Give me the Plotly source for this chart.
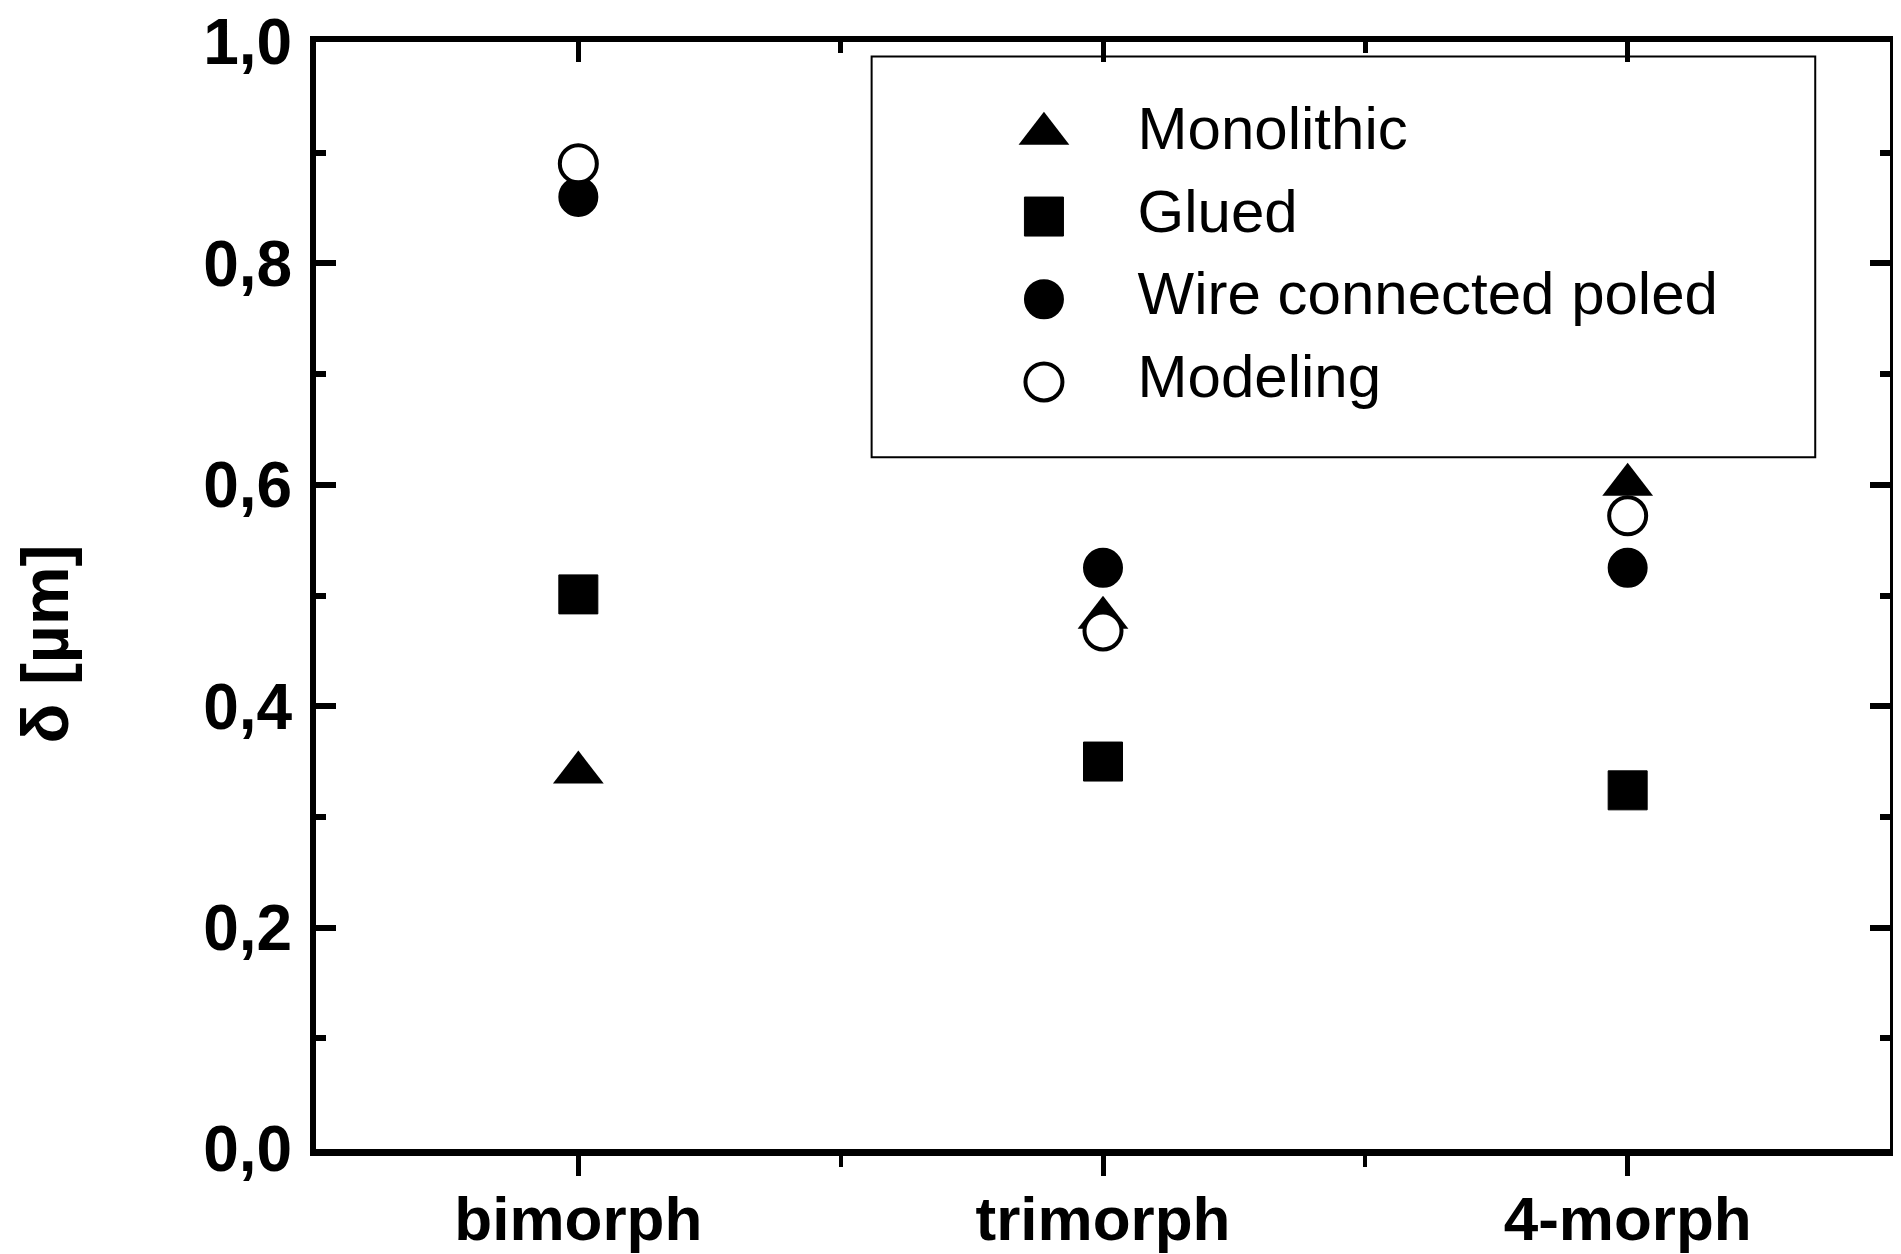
import plotly.graph_objects as go

# data
categories = ['bimorph', 'trimorph', '4-morph']
monolithic = [0.340, 0.480, 0.600]
glued = [0.501, 0.350, 0.324]
wire_poled = [0.860, 0.525, 0.525]
modeling = [0.890, 0.468, 0.572]

series_names = ['Monolithic', 'Glued', 'Wire connected poled', 'Modeling']
y_ticks = [0.0, 0.2, 0.4, 0.6, 0.8, 1.0]

FONT = 'Liberation Sans'
BLACK = '#000000'

styles = [
    dict(symbol='triangle-up', size=44, color=BLACK, line=dict(color=BLACK, width=0)),
    dict(symbol='square', size=39, color=BLACK, line=dict(color=BLACK, width=1)),
    dict(symbol='circle', size=38, color=BLACK, line=dict(color=BLACK, width=2)),
    dict(symbol='circle', size=37, color='white', line=dict(color=BLACK, width=4)),
]

xpos = list(range(len(categories)))
fig = go.Figure()
for name, vals, st in zip(series_names, [monolithic, glued, wire_poled, modeling], styles):
    fig.add_trace(go.Scatter(x=xpos, y=vals, mode='markers', name=name,
                             marker=st, showlegend=False, cliponaxis=False,
                             xaxis='x', yaxis='y'))

# empty trace so the top (mirror) axis gets drawn
fig.add_trace(go.Scatter(x=[], y=[], xaxis='x2', yaxis='y', showlegend=False))

# legend drawn on an overlaid helper axis pair so markers keep full size
rows = list(range(len(series_names)))
for i, st in enumerate(styles):
    fig.add_trace(go.Scatter(x=[0], y=[rows[i]], mode='markers', marker=st,
                             showlegend=False, cliponaxis=False,
                             xaxis='x3', yaxis='y3', hoverinfo='skip'))
fig.add_trace(go.Scatter(x=[1] * len(rows), y=rows, mode='text',
                         text=series_names, textposition='middle right',
                         textfont=dict(family=FONT, size=60, color=BLACK),
                         showlegend=False, cliponaxis=False,
                         xaxis='x3', yaxis='y3', hoverinfo='skip'))

fig.add_shape(type='rect', xref='paper', yref='paper',
              x0=0.353, x1=0.9525, y0=0.625, y1=0.987,
              line=dict(color=BLACK, width=2), fillcolor='white', layer='below')

fig.add_annotation(text='<b>δ [µm]</b>', xref='paper', yref='paper',
                   x=-0.172, y=0.456, textangle=-90, showarrow=False,
                   xanchor='center', yanchor='middle',
                   font=dict(family=FONT, size=66, color=BLACK))

fig.update_layout(
    width=1893, height=1246,
    margin=dict(l=308, r=11, t=34, b=105),
    paper_bgcolor='white', plot_bgcolor='white',
    separators=', ',
    font=dict(family=FONT, color=BLACK),
    showlegend=False,
    xaxis=dict(range=[-0.5, 2.5], tickvals=xpos, ticktext=categories,
               automargin=False, ticklabeloverflow='allow',
               showgrid=False, zeroline=False, showline=True,
               linecolor=BLACK, linewidth=7, mirror=False,
               ticks='outside', ticklen=20, tickwidth=5, tickcolor=BLACK,
               ticklabelstandoff=-10,
               tickfont=dict(family=FONT, size=62, color=BLACK, weight='bold'),
               minor=dict(tickvals=[0.5, 1.5], ticks='outside', ticklen=11,
                          tickwidth=4, tickcolor=BLACK, showgrid=False)),
    xaxis2=dict(overlaying='x', side='top', anchor='y', automargin=False,
                range=[-0.5, 2.5], tickvals=xpos, showticklabels=False,
                showgrid=False, zeroline=False, showline=True,
                linecolor=BLACK, linewidth=6,
                ticks='inside', ticklen=20, tickwidth=5, tickcolor=BLACK,
                minor=dict(tickvals=[0.5, 1.5], ticks='inside', ticklen=11,
                           tickwidth=5, tickcolor=BLACK, showgrid=False)),
    yaxis=dict(range=[0, 1.0], tickvals=y_ticks, tickformat='.1f',
               automargin=False, ticklabeloverflow='allow',
               showgrid=False, zeroline=False, showline=True,
               linecolor=BLACK, linewidth=6, mirror='ticks',
               ticks='inside', ticklen=20, tickwidth=6, tickcolor=BLACK,
               ticklabelstandoff=5,
               tickfont=dict(family=FONT, size=64, color=BLACK, weight='bold'),
               minor=dict(dtick=0.1, ticks='inside', ticklen=10, tickwidth=6,
                          tickcolor=BLACK, showgrid=False)),
    xaxis3=dict(overlaying='x', anchor='y3', range=[-7.773, 9.034],
                visible=False, automargin=False),
    yaxis3=dict(overlaying='y', anchor='x3', range=[12.276, -1.111],
                visible=False, automargin=False),
)

fig.write_html('out.html')
